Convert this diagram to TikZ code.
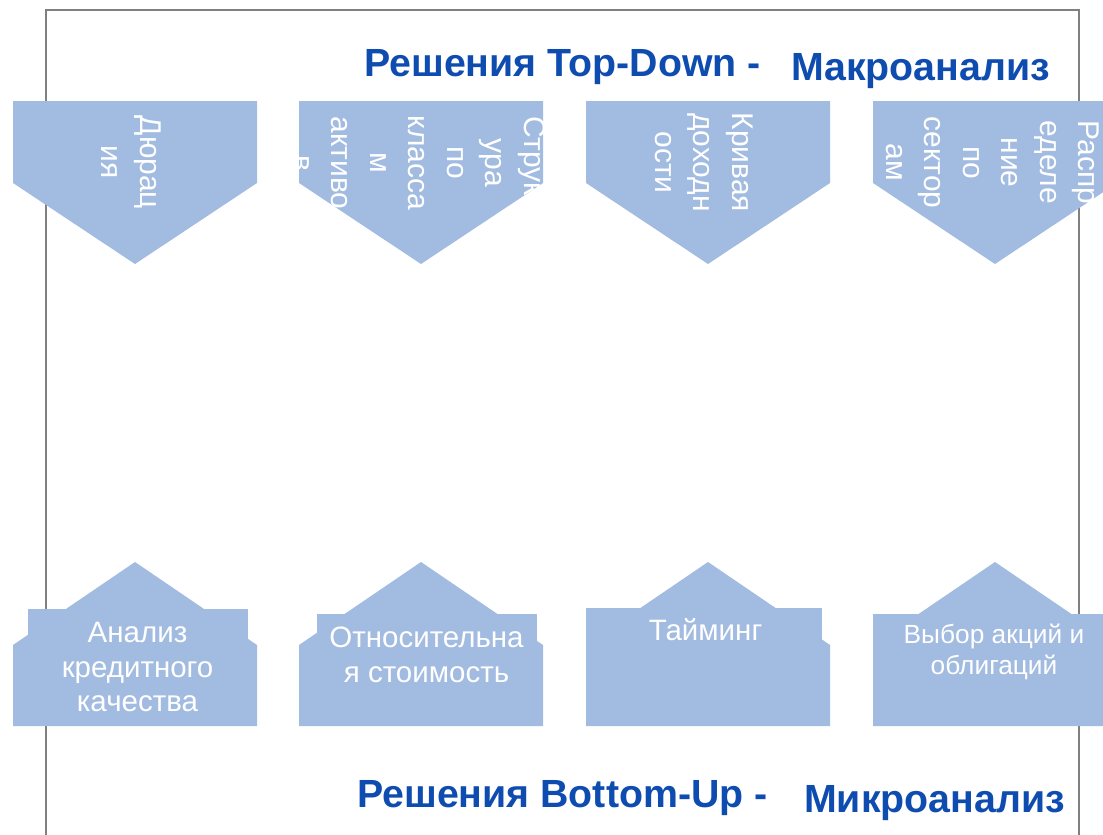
\documentclass[tikz,border=0pt]{standalone}
\usepackage{fontspec}
\setmainfont{Liberation Sans}
\definecolor{shapeblue}{RGB}{162,187,224}
\definecolor{titleblue}{RGB}{14,76,176}
\definecolor{framegray}{RGB}{128,128,128}
\newcommand\topshape[1]{(#1,101) -- ++(244,0) -- ++(0,82) -- ++(-122,81) -- ++(-122,-81) -- cycle}
\newcommand\botshape[1]{(#1,726) -- ++(0,-81) -- ++(122,-83) -- ++(122,83) -- ++(0,81) -- cycle}
\begin{document}
\begin{tikzpicture}[x=1pt,y=-1pt,
  shp/.style={fill=shapeblue,draw=none},
  toptxt/.style={text=white,rotate=-90,align=center,inner sep=0pt,font=\fontsize{30}{38.5}\selectfont},
  bottxt/.style={text=white,align=center,inner sep=0pt,font=\fontsize{29.5}{34.5}\selectfont},
  title/.style={text=titleblue,inner sep=0pt,anchor=base west,font=\fontsize{39.3}{45}\selectfont\bfseries}]
\useasboundingbox (0,0) rectangle (1103,835);
\draw[framegray,line width=2pt] (46,845) -- (46,10) -- (1079,10) -- (1079,845);

% top shapes
\begin{scope}
  \path[shp] \topshape{13};
  \clip \topshape{13};
  \node[toptxt] (t1) at (131.5,162.5) {Дюрац\\ия};
\end{scope}
\begin{scope}
  \path[shp] \topshape{299};
  \clip \topshape{299};
  \node[toptxt] (t2) at (419,163) {Структ\\ура\\по\\класса\\м\\активо\\в};
\end{scope}
\begin{scope}
  \path[shp] \topshape{586};
  \clip \topshape{586};
  \node[toptxt] (t3) at (704,162.5) {Кривая\\доходн\\ости};
\end{scope}
\begin{scope}
  \path[shp] \topshape{873};
  \clip \topshape{873};
  \node[toptxt] (t4) at (992.5,162.5) {Распр\\еделе\\ние\\по\\сектор\\ам};
\end{scope}

% bottom shapes
\path[shp] \botshape{13};
\path[shp] (28,609) rectangle (248,726);
\path[shp] \botshape{299};
\path[shp] (317,614) rectangle (537,726);
\path[shp] \botshape{586};
\path[shp] (586,608) rectangle (822,726);
\path[shp] \botshape{873};
\path[shp] (873,614) rectangle (1110,726);

\node[bottxt] (b1) at (137.5,667) {Анализ\\кредитного\\качества};
\node[bottxt] (b2) at (426.5,655) {Относительна\\я стоимость};
\node[bottxt] (b3) at (705.5,630) {Тайминг};
\node[bottxt,font=\fontsize{26.3}{31}\selectfont] (b4) at (994,652) {Выбор акций и\\облигаций};

% titles
\node[title] (h1) at (364,76) {Решения Top-Down -};
\node[title] (h2) at (791,80) {Макроанализ};
\node[title] (h3) at (357,807) {Решения Bottom-Up -};
\node[title] (h4) at (804,812) {Микроанализ};
\end{tikzpicture}
\end{document}
